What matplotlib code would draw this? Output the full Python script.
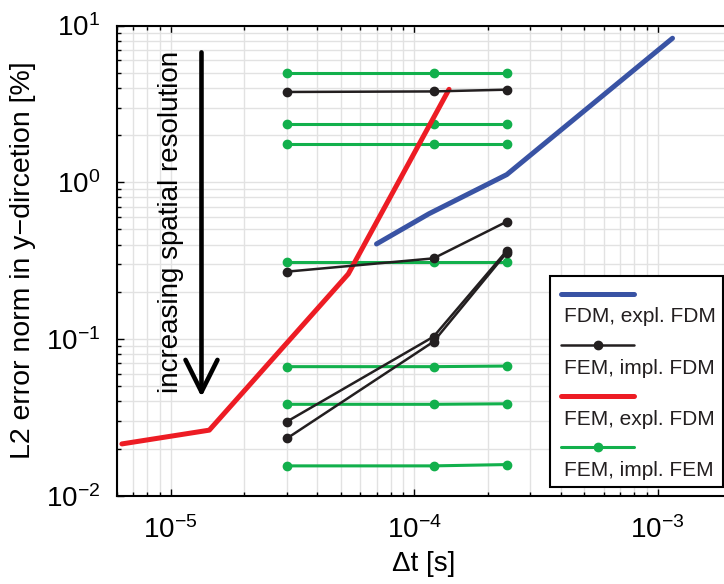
import numpy as np
import matplotlib
matplotlib.use('Agg')
import matplotlib.pyplot as plt
from matplotlib.lines import Line2D
from matplotlib.legend_handler import HandlerBase
from matplotlib.ticker import NullFormatter

plt.rcParams['font.family'] = ['Liberation Sans', 'DejaVu Sans']
plt.rcParams['mathtext.fontset'] = 'custom'
plt.rcParams['mathtext.rm'] = 'Liberation Sans'
plt.rcParams['mathtext.it'] = 'Liberation Sans:italic'

# time step sizes [s]
dt_impl = [3e-5, 1.2e-4, 2.4e-4]
dt_fdm_expl = [7.0e-5, 1.15e-4, 2.4e-4, 1.15e-3]
dt_fem_expl = [6.3e-6, 1.44e-5, 5.36e-5, 1.39e-4]

# L2 error [%]
err_fdm_expl = [0.404, 0.63, 1.12, 8.3]
err_fem_expl = [0.0214, 0.0262, 0.26, 3.92]
err_fem_impl_fdm = [
    [3.77, 3.80, 3.90],
    [0.269, 0.327, 0.561],
    [0.0297, 0.1034, 0.366],
    [0.0232, 0.0961, 0.356],
]
err_fem_impl_fem = [
    [4.96, 4.96, 4.96],
    [2.34, 2.34, 2.34],
    [1.76, 1.76, 1.76],
    [0.311, 0.311, 0.311],
    [0.0666, 0.0666, 0.0672],
    [0.0383, 0.0383, 0.0386],
    [0.0155, 0.0155, 0.0158],
]
labels = ['FDM, expl. FDM', 'FEM, impl. FDM', 'FEM, expl. FDM', 'FEM, impl. FEM']

c_blue = '#3953a4'
c_red = '#ed1c24'
c_black = '#231f20'
c_green = '#12b04c'


class LineAboveHandler(HandlerBase):
    # draws the sample line above the label text (matlab style legend)
    def legend_artist(self, legend, orig_handle, fontsize, handlebox):
        handlebox.height = 28.4
        handlebox.ydescent = 0.0
        return super().legend_artist(legend, orig_handle, fontsize, handlebox)

    def create_artists(self, legend, orig_handle, xdescent, ydescent,
                       width, height, fontsize, trans):
        x0, x1, y = 3.2, 55.6, 20.5
        ln = Line2D([x0, x1], [y, y], color=orig_handle.get_color(),
                    lw=orig_handle.get_linewidth(), solid_capstyle='round')
        ln.set_transform(trans)
        out = [ln]
        if orig_handle.get_marker() not in (None, 'None', '', ' '):
            mk = Line2D([(x0 + x1) / 2], [y], color=orig_handle.get_color(),
                        marker='o', ms=orig_handle.get_markersize(), ls='none')
            mk.set_transform(trans)
            out.append(mk)
        return out


fig = plt.figure(figsize=(7.24, 5.84), dpi=100)
ax = fig.add_axes([0.1612, 0.1512, 0.8485, 0.805])

h_blue, = ax.plot(dt_fdm_expl, err_fdm_expl, color=c_blue, lw=3.6,
                  solid_capstyle='round', zorder=3)
for row in err_fem_impl_fem:
    h_green, = ax.plot(dt_impl, row, color=c_green, lw=2.2, marker='o',
                       ms=6, zorder=3)
for row in err_fem_impl_fdm:
    h_black, = ax.plot(dt_impl, row, color=c_black, lw=1.8, marker='o',
                       ms=6, zorder=4)
h_red, = ax.plot(dt_fem_expl, err_fem_expl, color=c_red, lw=3.6,
                 solid_capstyle='round', zorder=3)

ax.set_xscale('log')
ax.set_yscale('log')
ax.set_xlim(6e-6, 2e-3)
ax.set_ylim(1e-2, 1e1)

ax.set_axisbelow(True)
ax.grid(True, which='both', color='#e2e2e2', lw=1.0)
ax.xaxis.set_minor_formatter(NullFormatter())
ax.yaxis.set_minor_formatter(NullFormatter())
ax.tick_params(which='both', direction='in', top=True, right=True,
               colors='black', labelsize=20, width=1.0)
ax.tick_params(which='major', length=5)
ax.tick_params(which='minor', length=3)
ax.tick_params(axis='x', pad=15)
ax.tick_params(axis='y', pad=12)
for sp in ax.spines.values():
    sp.set_linewidth(1.5)

ax.set_xlabel('\u0394t [s]', fontsize=20, labelpad=5)
ax.set_ylabel('L2 error norm in y\u2212dircetion [%]', fontsize=20.5, labelpad=7)

# resolution arrow and note
ax.annotate('', xy=(0.138, 0.21), xytext=(0.138, 0.943),
            xycoords='axes fraction', textcoords='axes fraction',
            arrowprops=dict(arrowstyle='->,head_length=2.3,head_width=1.15',
                            lw=3.3, color='black', mutation_scale=10,
                            shrinkA=0, shrinkB=0))
ax.text(0.0884, 0.582, 'increasing spatial resolution', rotation=90,
        transform=ax.transAxes, ha='center', va='center', fontsize=20)

leg = ax.legend([h_blue, h_black, h_red, h_green], labels,
                handler_map={Line2D: LineAboveHandler()},
                loc='lower right', bbox_to_anchor=(723.3 / 724, 97.3 / 584),
                bbox_transform=fig.transFigure, borderaxespad=0,
                fontsize=15, handlelength=0, handletextpad=0.35,
                borderpad=0.34, labelspacing=0.365, fancybox=False,
                framealpha=1, edgecolor='black')
leg.get_frame().set_linewidth(1.5)
for t in leg.get_texts():
    t.set_color('#231f20')

fig.savefig('out.png', dpi=100)
